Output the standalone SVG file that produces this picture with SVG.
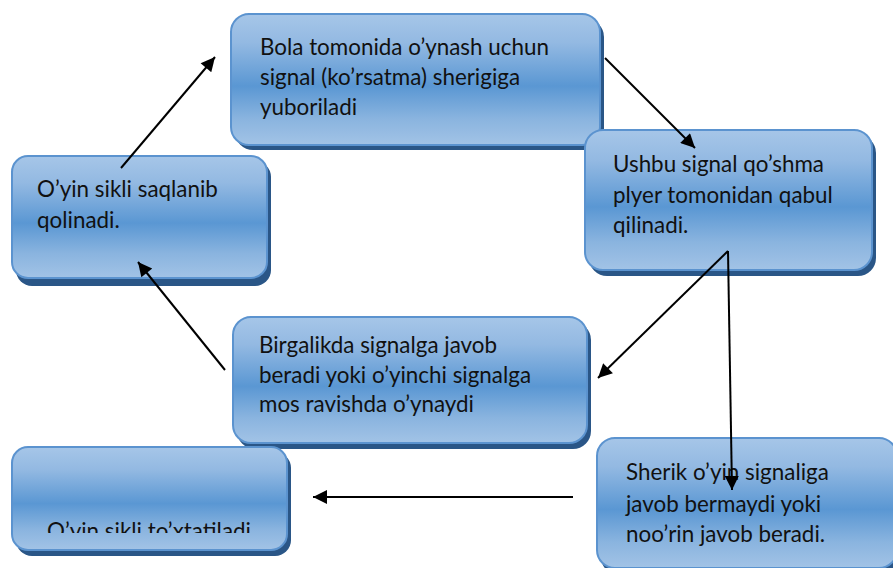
<svg xmlns="http://www.w3.org/2000/svg" width="893" height="568" viewBox="0 0 893 568">
<style>
.box{fill:url(#g);stroke:#5b93cf;stroke-width:2}
.sh{fill:#2a5687}
.t{font-family:Lato,"Open Sans","Liberation Sans",sans-serif;font-size:22.4px;fill:#111}
.c{stroke:#000;stroke-width:2;fill:none}
</style>
<defs>
<linearGradient id="g" x1="0" y1="0" x2="0" y2="1">
<stop offset="0" stop-color="#a6c6e8"/>
<stop offset="0.22" stop-color="#93b9e2"/>
<stop offset="0.55" stop-color="#5a97d3"/>
<stop offset="0.8" stop-color="#8ab4df"/>
<stop offset="1" stop-color="#a2c3e6"/>
</linearGradient>
<marker id="a" viewBox="0 0 10 10" refX="10" refY="5" markerWidth="8" markerHeight="7" markerUnits="strokeWidth" orient="auto">
<path d="M0,0 L10,5 L0,10 Z" fill="#000"/>
</marker>
<clipPath id="clip5"><rect x="0" y="440" width="300" height="93"/></clipPath>
</defs>

<g id="node1">
<rect class="sh" x="235" y="19" width="369" height="131" rx="18"/>
<rect class="box" x="231" y="14" width="369" height="131" rx="18"/>
<text class="t" x="260" y="55">Bola tomonida o’ynash uchun</text>
<text class="t" x="260" y="85">signal (ko’rsatma) sherigiga</text>
<text class="t" x="260" y="115">yuboriladi</text>
</g>

<g id="node2">
<rect class="sh" x="16" y="161" width="255" height="125" rx="16"/>
<rect class="box" x="12" y="156" width="255" height="122" rx="16"/>
<text class="t" x="37" y="197">O’yin sikli saqlanib</text>
<text class="t" x="37" y="228">qolinadi.</text>
</g>

<g id="node3">
<rect class="sh" x="589" y="135" width="287" height="141" rx="18"/>
<rect class="box" x="585" y="130" width="287" height="140" rx="18"/>
<text class="t" x="613" y="172">Ushbu signal qo’shma</text>
<text class="t" x="613" y="203">plyer tomonidan qabul</text>
<text class="t" x="613" y="233">qilinadi.</text>
</g>

<g id="node4">
<rect class="sh" x="237" y="322" width="354" height="127" rx="18"/>
<rect class="box" x="233" y="317" width="354" height="126" rx="18"/>
<text class="t" x="259" y="353">Birgalikda signalga javob</text>
<text class="t" x="259" y="383">beradi yoki o’yinchi signalga</text>
<text class="t" x="259" y="412">mos ravishda o’ynaydi</text>
</g>

<g id="node5">
<rect class="sh" x="16" y="452" width="275" height="104" rx="16"/>
<rect class="box" x="12" y="447" width="275" height="103" rx="16"/>
<text class="t" x="47" y="539" clip-path="url(#clip5)">O’yin sikli to’xtatiladi</text>
</g>

<g id="node6">
<rect class="sh" x="601" y="443" width="300" height="132" rx="18"/>
<rect class="box" x="597" y="438" width="300" height="130" rx="18"/>
<text class="t" x="626" y="480">Sherik o’yin signaliga</text>
<text class="t" x="626" y="512">javob bermaydi yoki</text>
<text class="t" x="626" y="542">noo’rin javob beradi.</text>
</g>

<g id="connectors">
<line class="c" x1="605" y1="58" x2="695" y2="148" marker-end="url(#a)"/>
<line class="c" x1="121" y1="168" x2="215" y2="57" marker-end="url(#a)"/>
<line class="c" x1="728" y1="251" x2="598" y2="378" marker-end="url(#a)"/>
<line class="c" x1="728" y1="251" x2="732" y2="490" marker-end="url(#a)"/>
<line class="c" x1="225" y1="370" x2="138" y2="262" marker-end="url(#a)"/>
<line class="c" x1="573" y1="497" x2="313" y2="497" marker-end="url(#a)"/>
</g>
</svg>
